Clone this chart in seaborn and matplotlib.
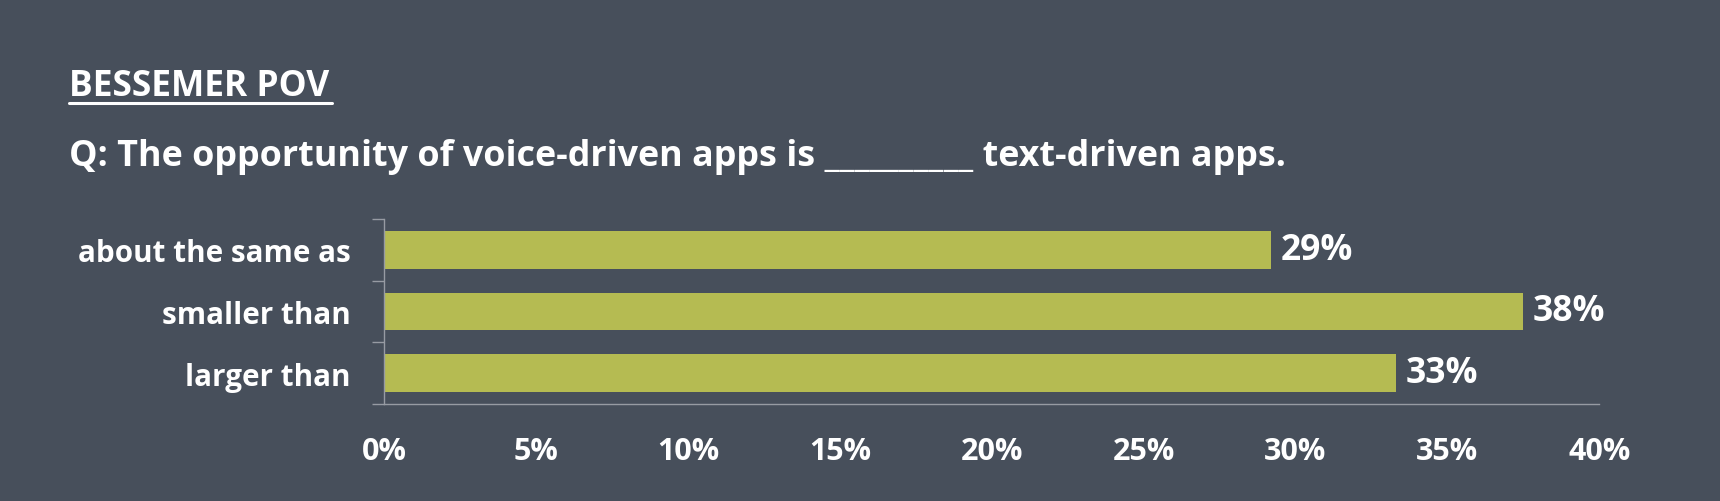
import matplotlib
matplotlib.use("Agg")
import matplotlib.pyplot as plt
from matplotlib.lines import Line2D
import seaborn as sns
import pandas as pd

# ---- data ----
categories = ["about the same as", "smaller than", "larger than"]
values = [29.2, 37.5, 33.3]
value_labels = ["29%", "38%", "33%"]
x_ticks = [0, 5, 10, 15, 20, 25, 30, 35, 40]
x_tick_labels = ["0%", "5%", "10%", "15%", "20%", "25%", "30%", "35%", "40%"]
heading = "BESSEMER POV"
question = "Q: The opportunity of voice-driven apps is __________ text-driven apps."

BG = "#474f5b"
BAR = "#b5bb52"
AXIS = "#979ba3"
TXT = "#ffffff"

sns.set_theme(style="white")
plt.rcParams["font.family"] = ["Open Sans", "DejaVu Sans"]
plt.rcParams["font.weight"] = "bold"

W, H = 1720, 502
fig = plt.figure(figsize=(W / 100, H / 100), dpi=100, facecolor=BG)
ax = fig.add_axes([384.3 / W, 1 - 405 / H, (1599.3 - 384.3) / W, (405 - 220) / H])
ax.set_facecolor(BG)

df = pd.DataFrame({"category": categories, "value": values})
sns.barplot(data=df, x="value", y="category", orient="h", color=BAR,
            saturation=1, width=0.61, linewidth=0, edgecolor="none", ax=ax)

ax.set_xlim(0, 40)
ax.set_ylim(len(categories) - 0.5, -0.5)
ax.set_xlabel("")
ax.set_ylabel("")

ax.set_xticks(x_ticks)
ax.set_xticklabels(x_tick_labels)
ax.tick_params(axis="x", which="major", length=7.2, width=1.0, color=AXIS,
               direction="out", pad=15.5, labelsize=22, labelcolor=TXT)

ax.set_yticks(range(len(categories)))
ax.set_yticklabels(categories)
ax.set_yticks([i - 0.5 for i in range(len(categories) + 1)], minor=True)
ax.tick_params(axis="y", which="major", length=0, pad=24, labelsize=21.3, labelcolor=TXT)
ax.tick_params(axis="y", which="minor", length=8.6, width=1.0, color=AXIS, direction="out")
ax.yaxis.set_tick_params(which="minor", left=True)

for lab in ax.get_xticklabels() + ax.get_yticklabels():
    lab.set_fontweight("bold")

for s in ["top", "right"]:
    ax.spines[s].set_visible(False)
for s in ["left", "bottom"]:
    ax.spines[s].set_color(AXIS)
    ax.spines[s].set_linewidth(1.0)

ax.bar_label(ax.containers[0], labels=value_labels, padding=7, fontsize=25.5,
             color=TXT, fontweight="bold")

fig.text(69 / W, 1 - 96.5 / H, heading, fontsize=25.5, color=TXT, fontweight="bold",
         ha="left", va="baseline")
fig.add_artist(Line2D([69 / W, 332 / W], [1 - 104 / H, 1 - 104 / H],
                      color=TXT, linewidth=2.2, transform=fig.transFigure))
fig.text(69 / W, 1 - 166.5 / H, question, fontsize=25.8, color=TXT, fontweight="bold",
         ha="left", va="baseline")

fig.savefig("out.png", dpi=100, facecolor=BG)
